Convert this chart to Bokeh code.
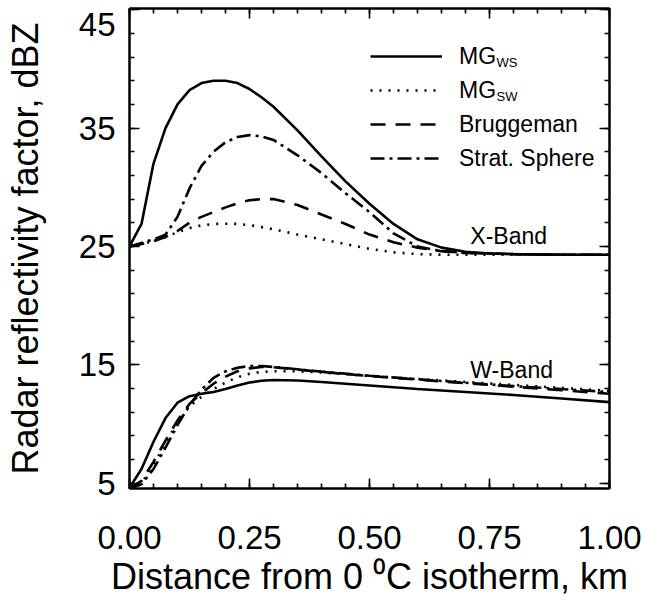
import numpy as np
from bokeh.plotting import figure
from bokeh.models import (Range1d, LinearAxis, FixedTicker, Legend, LegendItem, Label,
                          CustomLabelingPolicy)
from bokeh.embed import file_html
from bokeh.resources import INLINE

# ---------------- data ----------------
x_band_x = [0, 0.025, 0.05, 0.075, 0.1, 0.125, 0.15, 0.175, 0.2, 0.225, 0.25, 0.275,
            0.3, 0.35, 0.4, 0.45, 0.5, 0.55, 0.6, 0.65, 0.7, 0.75, 0.8, 0.9, 1.0]
x_mg_ws = [25.0, 26.9, 32.0, 35.0, 37.0, 38.2, 38.8, 39.0, 39.0, 38.8, 38.3, 37.6,
           36.8, 34.8, 32.6, 30.5, 28.6, 26.9, 25.6, 24.9, 24.55, 24.4, 24.35, 24.3, 24.3]
x_mg_sw = [25.0, 25.2, 25.45, 25.8, 26.2, 26.55, 26.78, 26.9, 26.92, 26.9, 26.8, 26.63,
           26.45, 26.0, 25.6, 25.2, 24.8, 24.5, 24.35, 24.3, 24.3, 24.3, 24.3, 24.3, 24.3]
x_brugg = [25.0, 25.2, 25.45, 25.8, 26.3, 27.0, 27.5, 27.9, 28.3, 28.65, 28.9, 29.0,
           29.0, 28.5, 27.7, 26.9, 26.0, 25.35, 24.9, 24.6, 24.45, 24.4, 24.35, 24.3, 24.3]
x_strat = [25.0, 25.3, 25.6, 26.0, 27.5, 29.9, 31.8, 33.0, 33.8, 34.25, 34.4, 34.3,
           34.0, 32.7, 31.2, 29.5, 27.9, 26.1, 25.0, 24.6, 24.45, 24.4, 24.35, 24.3, 24.3]

w_band_x = [0, 0.025, 0.05, 0.075, 0.1, 0.125, 0.15, 0.175, 0.2, 0.225, 0.25, 0.275,
            0.3, 0.35, 0.4, 0.5, 0.6, 0.7, 0.8, 0.9, 1.0]
w_mg_ws = [4.6, 6.2, 8.5, 10.5, 11.8, 12.35, 12.55, 12.7, 12.95, 13.25, 13.5, 13.65,
           13.72, 13.68, 13.55, 13.25, 12.95, 12.7, 12.45, 12.15, 11.85]
w_mg_sw = [4.55, 5.0, 6.5, 8.4, 10.1, 11.5, 12.3, 12.95, 13.5, 13.95, 14.25, 14.4,
           14.45, 14.45, 14.35, 14.05, 13.8, 13.55, 13.3, 13.05, 12.8]
w_brugg = [4.55, 5.2, 6.8, 8.6, 10.3, 11.7, 12.6, 13.4, 14.0, 14.45, 14.7, 14.82,
           14.8, 14.6, 14.4, 14.05, 13.75, 13.45, 13.15, 12.85, 12.55]
w_strat = [4.55, 4.9, 6.2, 8.0, 9.9, 11.6, 12.9, 13.9, 14.45, 14.75, 14.9, 14.9,
           14.82, 14.62, 14.42, 14.08, 13.78, 13.48, 13.2, 12.95, 12.7]

x_ticks = [0, 0.25, 0.5, 0.75, 1.0]
x_tick_labels = ["0.00", "0.25", "0.50", "0.75", "1.00"]
y_ticks = [5, 15, 25, 35, 45]
y_tick_labels = ["5", "15", "25", "35", "45"]
legend_labels = ["MG", "MG", "Bruggeman", "Strat. Sphere"]
legend_subs = ["WS", "SW"]
band_labels = ["X-Band", "W-Band"]

FONT = "Liberation Sans"

p = figure(frame_width=480, frame_height=480,
           x_range=Range1d(0, 1), y_range=Range1d(4.55, 45.1),
           output_backend="svg", toolbar_location=None,
           min_border_left=129, min_border_right=38, min_border_top=8, min_border_bottom=121,
           x_axis_label="Distance from 0 \u2070C isotherm, km",
           y_axis_label="Radar reflectivity factor, dBZ")
p.xgrid.visible = False
p.ygrid.visible = False
p.outline_line_color = "black"
p.outline_line_width = 2
p.background_fill_color = "white"
p.border_fill_color = "white"

xt = FixedTicker(ticks=x_ticks, minor_ticks=list(np.round(np.arange(0, 1.0001, 0.05), 3)))
yt = FixedTicker(ticks=y_ticks, minor_ticks=list(range(5, 46, 2)))

def style(ax, show_labels):
    ax.axis_line_color = "black"
    ax.axis_line_width = 2
    ax.major_tick_in = 10
    ax.major_tick_out = 0
    ax.minor_tick_in = 5
    ax.minor_tick_out = 0
    ax.major_tick_line_width = 1.6
    ax.minor_tick_line_width = 1.6
    ax.major_tick_line_color = "black"
    ax.minor_tick_line_color = "black"
    ax.major_label_text_font = FONT
    ax.major_label_text_color = "black"
    ax.axis_label_text_font = FONT
    ax.axis_label_text_font_style = "normal"
    ax.axis_label_text_color = "black"
    if not show_labels:
        ax.major_label_text_font_size = "0px"
        ax.major_label_standoff = 0
        ax.major_label_policy = CustomLabelingPolicy(code="return new Set()")

xa = p.xaxis[0]
ya = p.yaxis[0]
xa.ticker = xt
ya.ticker = yt
xa.major_label_overrides = dict(zip(x_ticks, x_tick_labels))
# the top label (45) is pushed down inside the page, as in the original
ya_labels = dict(zip(y_ticks, y_tick_labels))
ya_labels[y_ticks[-1]] = "\n" + y_tick_labels[-1]
ya.major_label_overrides = ya_labels
ya.major_label_text_line_height = 0.15
style(xa, True)
style(ya, True)
xa.major_label_text_font_size = "33px"
ya.major_label_text_font_size = "33px"
xa.major_label_standoff = 37
ya.major_label_standoff = 14
xa.axis_label_text_font_size = "36px"
ya.axis_label_text_font_size = "36px"
xa.axis_label_standoff = 4
ya.axis_label_standoff = 30

top = LinearAxis(ticker=xt)
right = LinearAxis(ticker=yt)
style(top, False)
style(right, False)
p.add_layout(top, "above")
p.add_layout(right, "right")

LW = 2.6
r1 = p.line(x_band_x, x_mg_ws, line_color="black", line_width=LW)
r2 = p.line(x_band_x, x_mg_sw, line_color="black", line_width=LW, line_dash="2 7")
r3 = p.line(x_band_x, x_brugg, line_color="black", line_width=LW, line_dash="15 10")
r4 = p.line(x_band_x, x_strat, line_color="black", line_width=LW, line_dash="14 5 3 5")
p.line(w_band_x, w_mg_ws, line_color="black", line_width=LW)
p.line(w_band_x, w_mg_sw, line_color="black", line_width=LW, line_dash="2 7")
p.line(w_band_x, w_brugg, line_color="black", line_width=LW, line_dash="15 10")
p.line(w_band_x, w_strat, line_color="black", line_width=LW, line_dash="14 5 3 5")

legend = Legend(items=[LegendItem(label=legend_labels[i], renderers=[r])
                       for i, r in enumerate([r1, r2, r3, r4])],
                location=(241, 313), padding=0, margin=0, spacing=0,
                glyph_width=72, glyph_height=34, label_height=34, label_standoff=17,
                label_text_font=FONT, label_text_font_size="23px",
                label_text_baseline="alphabetic", label_text_color="black",
                border_line_alpha=0, background_fill_alpha=0)
p.add_layout(legend)

for i, sub in enumerate(legend_subs):
    p.add_layout(Label(x=367, y=426 - 34 * i, x_units="screen", y_units="screen",
                       text=sub, text_font=FONT, text_font_size="13px",
                       text_baseline="alphabetic", text_color="black"))

p.add_layout(Label(x=0.71, y=25.9, text=band_labels[0], text_font=FONT,
                   text_font_size="23px", text_baseline="alphabetic", text_color="black"))
p.add_layout(Label(x=0.71, y=14.6, text=band_labels[1], text_font=FONT,
                   text_font_size="23px", text_baseline="alphabetic", text_color="black"))

open("out.html", "w").write(file_html(p, INLINE))
